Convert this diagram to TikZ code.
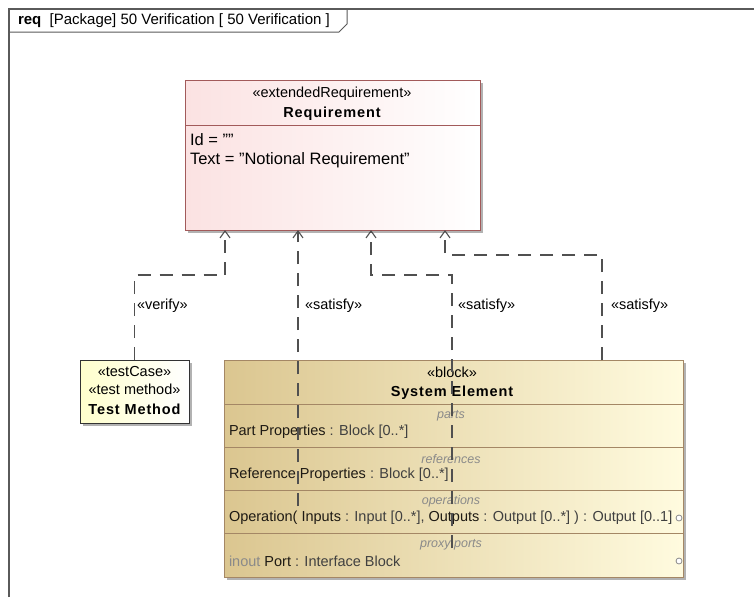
\documentclass[tikz,border=0pt]{standalone}
\usepackage{fontspec}
\setmainfont{Liberation Sans}
\newfontfamily\spacedfont[LetterSpace=6]{Liberation Sans}
\usetikzlibrary{arrows.meta,calc,shadows}

\begin{document}
\begin{tikzpicture}[x=1pt, y=-1pt, >={Straight Barb[length=7pt,width=10pt]},
  every node/.style={font=\fontsize{14.5}{17}\selectfont, inner sep=0pt, outer sep=0pt},
  dep/.style={draw=DepLine, line width=1.1pt, dash pattern=on 13pt off 9pt},
  shadowed/.style={drop shadow={shadow xshift=3pt, shadow yshift=-3pt, fill=black!30, opacity=1}},
  compname/.style={font=\fontsize{12.5}{15}\selectfont\itshape, text=Muted},
  heading/.style={font=\fontsize{14.5}{17}\selectfont\spacedfont\bfseries}]
\definecolor{DepLine}{HTML}{505050}\definecolor{Muted}{HTML}{8A8A8A}\definecolor{FrameLine}{HTML}{5A5A5A}
\definecolor{ReqFill}{HTML}{FBE2E2}\definecolor{ReqLine}{HTML}{A25A5A}\definecolor{TestFill}{HTML}{FFFFCC}
\definecolor{BlkFillA}{HTML}{DBC690}\definecolor{BlkFillB}{HTML}{FFFBDF}\definecolor{BlkLine}{HTML}{A48765}\definecolor{Ink}{HTML}{1E1A14}
\useasboundingbox (0,0) rectangle (754,597); \fill[white] (0,0) rectangle (754,597);
% diagram frame and its tab
\draw[FrameLine, line width=1.4pt] (9,597) -- (9,9) -- (754,9);
\draw[FrameLine, line width=1pt] (9,32) -- (339,32) -- (347,24) -- (347,9);
\node[anchor=west, font=\fontsize{15}{17}\selectfont] (title) at (18,21) {\textbf{req}\ \ [Package] 50 Verification [ 50 Verification ]};
% requirement
\node[shadowed, draw=ReqLine, line width=1pt, left color=ReqFill, right color=white, minimum width=295pt, minimum height=150pt, anchor=north west] (req) at (185,80) {};
\draw[ReqLine, line width=1pt] (req.west |- 0,125) -- (req.east |- 0,125);
\node (reqst) at (332,94) {«extendedRequirement»};
\node[heading] (reqname) at (332,114) {Requirement};
\node[anchor=west, font=\fontsize{16.5}{19}\selectfont] (reqid) at (190,140) {Id = ""};
\node[anchor=west, font=\fontsize{16.5}{19}\selectfont] (reqtext) at (190,160) {Text = "Notional Requirement"};
% test case
\node[shadowed, draw=black!80, line width=1pt, left color=TestFill, right color=white, minimum width=109pt, minimum height=63pt, anchor=north west] (tm) at (80,360) {};
\node (tmst1) at (134.5,372) {«testCase»};
\node (tmst2) at (134.5,389) {«test method»};
\node[heading] (tmname) at (134.5,409) {Test Method};
% block
\node[shadowed, draw=BlkLine, line width=1pt, left color=BlkFillA, right color=BlkFillB, minimum width=459pt, minimum height=217pt, anchor=north west] (blk) at (224,360) {};
\foreach \yy in {404,447,490,533} \draw[BlkLine, line width=1pt] (blk.west |- 0,\yy) -- (blk.east |- 0,\yy);
\node (blkst) at (452,372) {«block»};
\node[heading] (blkname) at (452,393) {System Element};
\node[compname] (parts) at (451,416) {parts};
\node[anchor=west, text=Ink] (partline) at (229,432) {Part Properties \textcolor{black!75}{: Block [0..*]}};
\node[compname] (refs) at (451,459) {references};
\node[anchor=west, text=Ink] (refline) at (229,475) {Reference Properties \textcolor{black!75}{: Block [0..*]}};
\node[compname] (ops) at (451,501) {operations};
\node[anchor=west, text=Ink] (opline) at (229,518) {Operation( Inputs \textcolor{black!75}{: Input [0..*],} Outputs \textcolor{black!75}{: Output [0..*] ) : Output [0..1]}};
\node[compname] (ports) at (451,545) {proxy ports};
\node[anchor=west, text=Ink] (portline) at (229,561) {\textcolor{Muted}{inout} Port \textcolor{black!75}{: Interface Block}};
\draw[Muted, fill=white, line width=.8pt] (679,518) circle (3pt) (679,561) circle (3pt);
% dependencies
\coordinate (v1) at (225,275); \coordinate (s1) at (298,506);
\coordinate (s2) at (452,548); \coordinate (s2b) at (371,275);
\coordinate (s3) at (602,360); \coordinate (s3b) at (445,255);
\draw[dep,->] (tm.north) |- (v1) -- (v1 |- req.south);
\draw[dep,->] (s1) -- (s1 |- req.south);
\draw[dep,->] (s2) |- (s2b) -- (s2b |- req.south);
\draw[dep,->] (s3) |- (s3b) -- (s3b |- req.south);
\node[anchor=west] (lv) at (137,306) {«verify»};
\node[anchor=west] (ls1) at (305,306) {«satisfy»};
\node[anchor=west] (ls2) at (458,306) {«satisfy»};
\node[anchor=west] (ls3) at (611,306) {«satisfy»};
\end{tikzpicture}
\end{document}
